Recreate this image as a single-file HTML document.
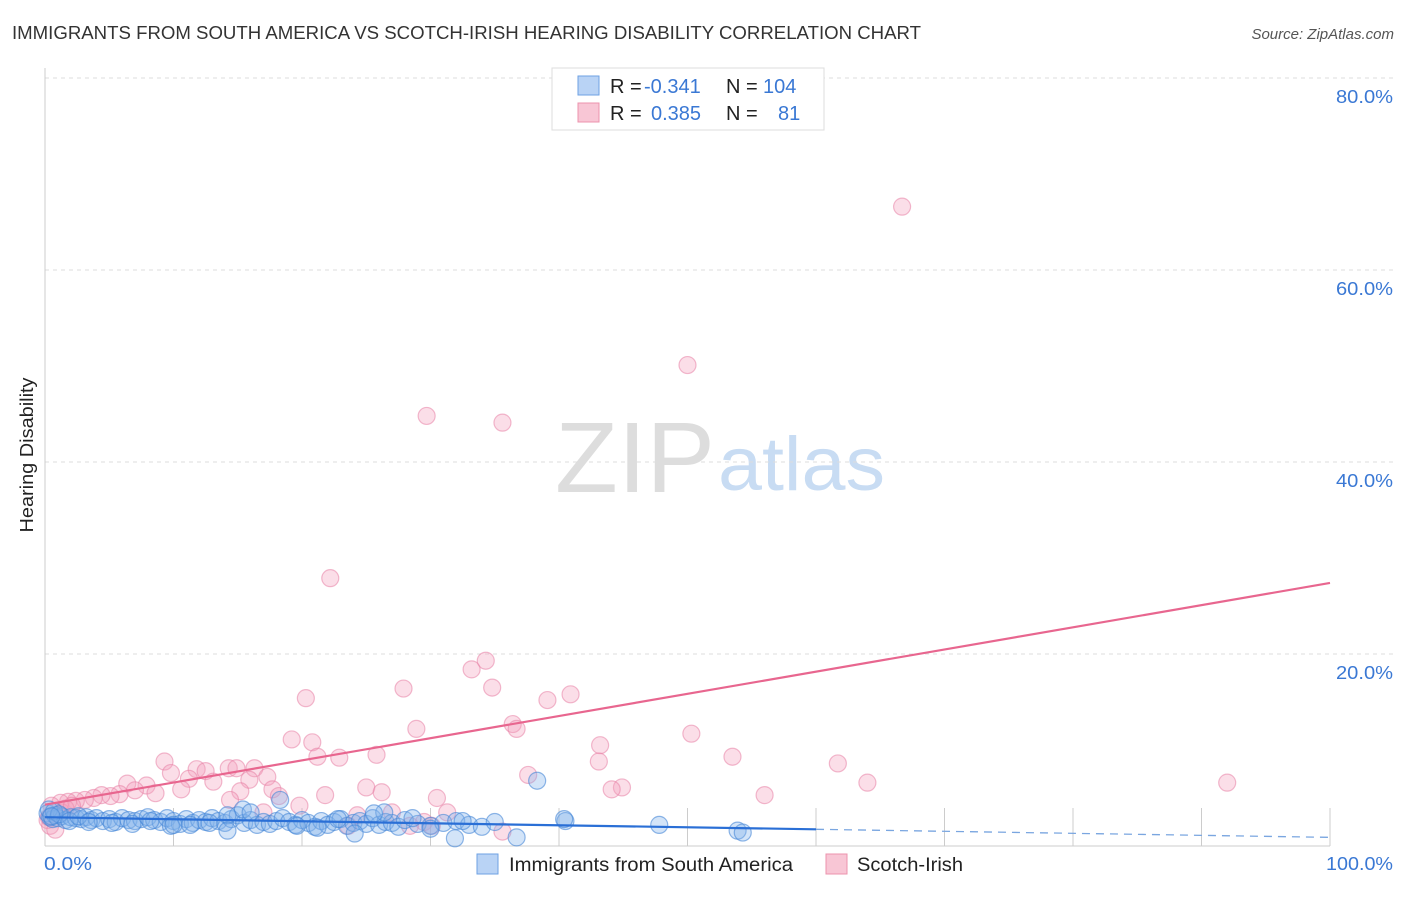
<!DOCTYPE html>
<html><head><meta charset="utf-8">
<style>
body{margin:0;background:#fff;font-family:"Liberation Sans",sans-serif;}
svg text{font-family:"Liberation Sans",sans-serif;}
</style></head>
<body>
<svg id="chart" width="1406" height="892" viewBox="0 0 1406 892">
<text x="12" y="39" font-size="18" fill="#333" textLength="909" lengthAdjust="spacingAndGlyphs">IMMIGRANTS FROM SOUTH AMERICA VS SCOTCH-IRISH HEARING DISABILITY CORRELATION CHART</text>
<text x="1394" y="39" font-size="15" font-style="italic" fill="#555" text-anchor="end">Source: ZipAtlas.com</text>
<text transform="translate(33,455) rotate(-90)" font-size="18" fill="#222" text-anchor="middle" textLength="155" lengthAdjust="spacingAndGlyphs">Hearing Disability</text>
<g>
<text x="555" y="492" font-size="100" fill="#ddd" font-family="Liberation Serif,serif" textLength="160" lengthAdjust="spacingAndGlyphs">ZIP</text>
<text x="718" y="490" font-size="76" fill="#c8dcf3" textLength="167" lengthAdjust="spacingAndGlyphs">atlas</text>
</g>
<g id="grid"></g>
<g id="marks"></g>
<g>
<rect x="552" y="68" width="272" height="62" fill="#fff" stroke="#ddd"/>
<rect x="578" y="76" width="21" height="19" fill="#b9d3f5" stroke="#6ea2e3"/>
<rect x="578" y="103" width="21" height="19" fill="#f8c6d5" stroke="#ec93ad"/>
<text x="610" y="93" font-size="20" fill="#222">R =</text>
<text x="644" y="93" font-size="20" fill="#3a78d4">-0.341</text>
<text x="726" y="93" font-size="20" fill="#222">N =</text>
<text x="763" y="93" font-size="20" fill="#3a78d4">104</text>
<text x="610" y="120" font-size="20" fill="#222">R =</text>
<text x="651" y="120" font-size="20" fill="#3a78d4">0.385</text>
<text x="726" y="120" font-size="20" fill="#222">N =</text>
<text x="778" y="120" font-size="20" fill="#3a78d4">81</text>
</g>
<g>
<rect x="477" y="854" width="21" height="20" fill="#b9d3f5" stroke="#6ea2e3"/>
<text x="509" y="871" font-size="19" fill="#222" textLength="284" lengthAdjust="spacingAndGlyphs">Immigrants from South America</text>
<rect x="826" y="854" width="21" height="20" fill="#f8c6d5" stroke="#ec93ad"/>
<text x="857" y="871" font-size="19" fill="#222" textLength="106" lengthAdjust="spacingAndGlyphs">Scotch-Irish</text>
</g>
</svg>
<script>
const yTicks=[20,40,60,80];
const yTickLabels=["20.0%","40.0%","60.0%","80.0%"];
const xTickLabels=["0.0%","100.0%"];
const pinkX=[66.7,50.0,29.7,35.6,22.2,34.3,33.2,27.9,34.8,40.9,39.1,20.3,36.4,36.7,28.9,19.2,20.8,43.2,50.3,53.5,61.7,64.0,92.0,56.0,43.1,44.9,44.1,37.6,25.8,21.2,22.9,9.3,9.8,11.8,12.5,14.3,14.9,16.3,17.3,15.9,11.2,13.1,15.2,10.6,6.4,7.9,8.6,7.0,5.8,5.1,4.4,3.8,3.1,2.4,1.8,1.2,0.5,17.7,18.2,21.8,25.0,26.2,30.5,31.3,27.0,24.3,19.8,17.0,29.5,30.1,35.6,23.6,28.4,0.2,0.4,0.8,1.3,1.6,2.1,14.4,0.3];
const pinkY=[66.6,50.1,44.8,44.1,27.9,19.3,18.4,16.4,16.5,15.8,15.2,15.4,12.7,12.2,12.2,11.1,10.8,10.5,11.7,9.3,8.6,6.6,6.6,5.3,8.8,6.1,5.9,7.4,9.5,9.3,9.2,8.8,7.6,8.0,7.8,8.1,8.1,8.1,7.2,6.9,7.0,6.7,5.7,5.9,6.5,6.3,5.5,5.8,5.4,5.2,5.3,5.0,4.8,4.7,4.6,4.5,4.2,5.9,5.2,5.3,6.1,5.6,5.0,3.5,3.5,3.2,4.2,3.5,2.5,2.1,1.5,2.1,2.1,2.7,2.1,1.7,3.5,3.9,4.2,4.8,3.0];
const blueX=[0.2,0.4,0.6,0.8,1.0,1.3,1.6,2.0,2.4,2.8,3.2,3.6,4.0,4.5,5.0,5.5,6.0,6.5,7.0,7.5,8.0,8.5,9.0,9.5,10.0,10.5,11.0,11.5,12.0,12.5,13.0,13.5,14.0,14.5,15.0,15.5,16.0,16.5,17.0,17.5,18.0,18.5,19.0,19.5,20.0,20.5,21.0,21.5,22.0,22.5,23.0,23.5,24.0,24.5,25.0,25.5,26.0,26.5,27.0,27.5,28.0,29.0,30.0,31.0,32.0,33.0,34.0,35.0,0.3,0.7,1.1,1.9,2.6,3.4,5.2,6.8,8.2,9.8,11.3,12.8,38.3,18.3,40.5,40.4,47.8,53.9,54.3,31.9,24.1,36.7,30.0,26.4,15.4,16.0,14.2,10.0,14.2,19.6,21.2,22.8,25.6,28.6,32.5,0.5];
const blueY=[3.4,3.0,2.8,3.2,2.9,3.1,2.7,3.0,2.9,2.8,3.0,2.7,2.9,2.6,2.8,2.5,2.9,2.7,2.6,2.8,3.0,2.7,2.5,2.9,2.6,2.3,2.8,2.4,2.7,2.5,2.9,2.6,2.4,2.8,3.2,2.4,2.7,2.2,2.5,2.3,2.6,2.9,2.5,2.2,2.7,2.4,2.0,2.6,2.2,2.5,2.8,2.1,2.4,2.6,2.3,2.9,2.2,2.5,2.4,2.0,2.7,2.3,2.1,2.4,2.6,2.2,2.0,2.5,3.8,3.6,3.3,2.6,3.1,2.5,2.4,2.3,2.6,2.1,2.2,2.4,6.8,4.8,2.6,2.8,2.2,1.6,1.4,0.8,1.3,0.9,1.8,3.5,3.8,3.5,3.2,2.2,1.6,2.1,1.9,2.8,3.4,2.9,2.6,3.1];
const pinkFit=[4.3,27.4];
const blueFit=[3.0,0.9];

const NS="http://www.w3.org/2000/svg";
const x0=45,x1=1330,yBase=846,pxPerPct=9.6;
const sx=v=>x0+(x1-x0)*v/100;
const sy=v=>yBase-v*pxPerPct;
const grid=document.getElementById('grid');
const marks=document.getElementById('marks');
function mk(tag,attrs,parent){const e=document.createElementNS(NS,tag);for(const k in attrs)e.setAttribute(k,attrs[k]);parent.appendChild(e);return e;}

yTicks.forEach((t,i)=>{
  const l=mk('line',{x1:x0,x2:1394,y1:sy(t),y2:sy(t),stroke:'#ddd','stroke-dasharray':'4,4'},grid);
  
  
  const tx=mk('text',{x:1393,y:sy(t)+25,'font-size':18,fill:'#3a78d4','text-anchor':'end',textLength:57,lengthAdjust:'spacingAndGlyphs'},grid);
  tx.textContent=yTickLabels[i];
  
  
});
const ax=mk('line',{x1:x0,x2:x0,y1:68,y2:846,stroke:'#ccc'},grid);


const bx=mk('line',{x1:x0,x2:x1,y1:846,y2:846,stroke:'#ccc'},grid);


for(let i=1;i<=10;i++){
  const t=mk('line',{x1:sx(i*10),x2:sx(i*10),y1:808,y2:846,stroke:'#ccc'},grid);
  
  
}
const xl0=mk('text',{x:44,y:870,'font-size':18,fill:'#3a78d4',textLength:48,lengthAdjust:'spacingAndGlyphs'},grid);
xl0.textContent=xTickLabels[0];


const xl1=mk('text',{x:1393,y:870,'font-size':18,fill:'#3a78d4','text-anchor':'end',textLength:67,lengthAdjust:'spacingAndGlyphs'},grid);
xl1.textContent=xTickLabels[1];



pinkX.forEach((v,i)=>{
  const c=mk('circle',{cx:sx(v),cy:sy(pinkY[i]),r:8.5,fill:'rgba(244,160,188,0.35)',stroke:'rgba(232,130,165,0.55)','stroke-width':1.2},marks);
  
  
});
blueX.forEach((v,i)=>{
  const c=mk('circle',{cx:sx(v),cy:sy(blueY[i]),r:8.5,fill:'rgba(130,178,235,0.35)',stroke:'rgba(70,135,215,0.6)','stroke-width':1.2},marks);
  
  
});
const pl=mk('line',{x1:sx(0),y1:sy(pinkFit[0]),x2:sx(100),y2:sy(pinkFit[1]),stroke:'#e8668f','stroke-width':2.2},marks);


const split=60;
const bm=blueFit[0]+(blueFit[1]-blueFit[0])*split/100;
const bl=mk('line',{x1:sx(0),y1:sy(blueFit[0]),x2:sx(split),y2:sy(bm),stroke:'#2a6fd6','stroke-width':2.2},marks);


const bd=mk('line',{x1:sx(split),y1:sy(bm),x2:sx(100),y2:sy(blueFit[1]),stroke:'#7aa6e0','stroke-width':1.3,'stroke-dasharray':'8,6'},marks);


</script>
</body></html>
